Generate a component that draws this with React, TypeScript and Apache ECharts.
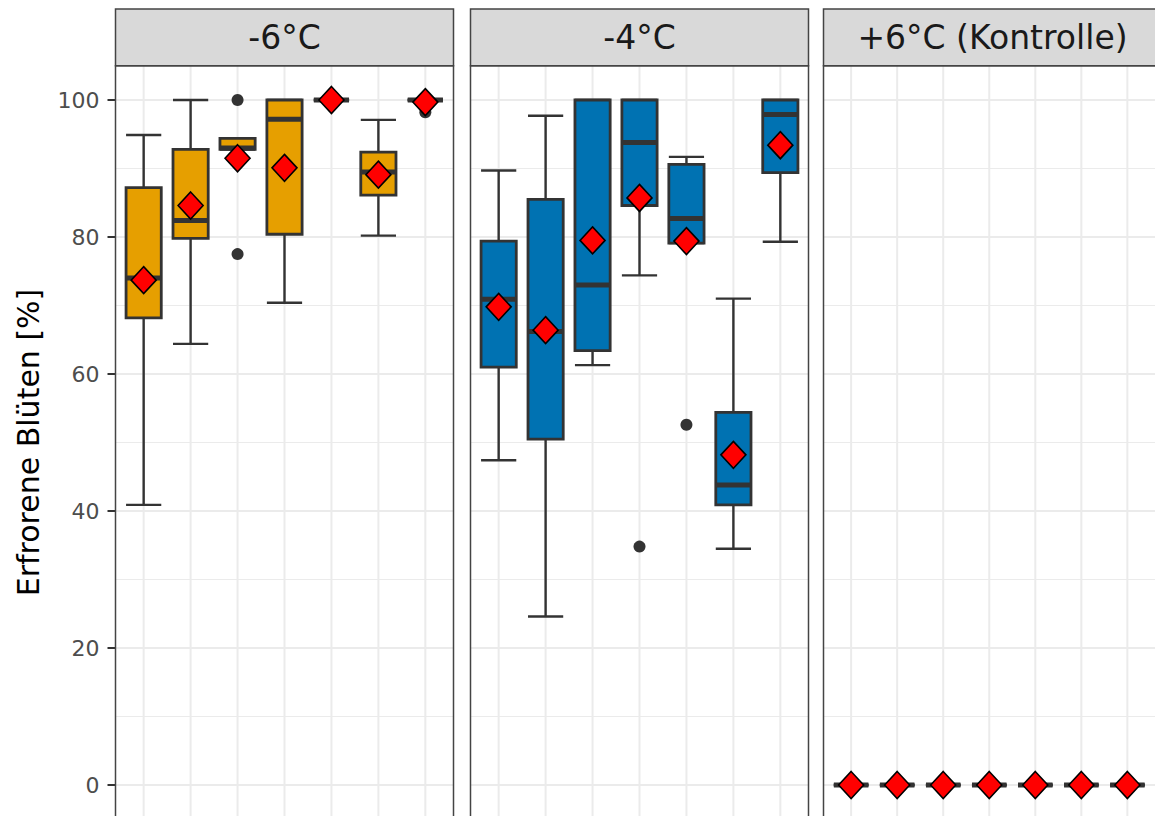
import React, { useEffect, useRef } from "react";
import * as echarts from "echarts";

// ---------- data ----------
const panels = ["-6°C", "-4°C", "+6°C (Kontrolle)"];
const categories = ["1", "2", "3", "4", "5", "6", "7"];
const yTicks = [0, 20, 40, 60, 80, 100];

// [lower whisker, Q1, median, Q3, upper whisker]
const boxMinus6 = [
  [40.9, 68.2, 74.0, 87.2, 94.9],
  [64.4, 79.8, 82.4, 92.8, 100],
  [92.8, 92.8, 93.0, 94.4, 94.4],
  [70.4, 80.4, 97.2, 100, 100],
  [100, 100, 100, 100, 100],
  [80.2, 86.1, 89.5, 92.4, 97.1],
  [100, 100, 100, 100, 100],
];
const meanMinus6 = [73.7, 84.6, 91.5, 90.1, 100, 89.1, 99.7];
const outlierMinus6 = [
  [3, 100],
  [3, 77.5],
  [7, 98.2],
];

const boxMinus4 = [
  [47.4, 61.0, 70.9, 79.4, 89.7],
  [24.6, 50.5, 66.2, 85.5, 97.7],
  [61.3, 63.4, 73.0, 100, 100],
  [74.4, 84.6, 93.8, 100, 100],
  [79.1, 79.1, 82.7, 90.6, 91.7],
  [34.5, 40.9, 43.8, 54.4, 71.0],
  [79.3, 89.4, 97.9, 100, 100],
];
const meanMinus4 = [69.8, 66.4, 79.5, 85.7, 79.4, 48.2, 93.4];
const outlierMinus4 = [
  [4, 34.8],
  [5, 52.6],
];

const boxPlus6 = [
  [0, 0, 0, 0, 0],
  [0, 0, 0, 0, 0],
  [0, 0, 0, 0, 0],
  [0, 0, 0, 0, 0],
  [0, 0, 0, 0, 0],
  [0, 0, 0, 0, 0],
  [0, 0, 0, 0, 0],
];
const meanPlus6 = [0, 0, 0, 0, 0, 0, 0];
const outlierPlus6: number[][] = [];

const panelBoxes = [boxMinus6, boxMinus4, boxPlus6];
const panelMeans = [meanMinus6, meanMinus4, meanPlus6];
const panelOutliers = [outlierMinus6, outlierMinus4, outlierPlus6];
const panelColors = ["#E69F00", "#0072B2", "#D55E00"];

// ---------- layout ----------
const PANEL_LEFT = [115.5, 470.5, 823.5];
const PANEL_W = 338;
const DATA_TOP = 100; // y of value 100
const DATA_H = 685; // 100 -> 0
const EXP = 5; // ggplot expansion in data units
const FONT = "DejaVu Sans";

export default function App() {
  const ref = useRef<HTMLDivElement>(null);

  useEffect(() => {
    if (!ref.current) return;
    const chart = echarts.init(ref.current, undefined, { renderer: "svg" });
    const unitPx = DATA_H / 100;
    const panelTop = DATA_TOP - EXP * unitPx;
    const panelH = DATA_H + 2 * EXP * unitPx;

    const grids = PANEL_LEFT.map((l) => ({
      left: l,
      top: DATA_TOP,
      width: PANEL_W,
      height: DATA_H,
      containLabel: false,
    }));

    const xAxes = PANEL_LEFT.map((_, i) => ({
      type: "value",
      gridIndex: i,
      min: 0.4,
      max: 7.6,
      show: false,
    }));

    const yAxes = PANEL_LEFT.map((_, i) => ({
      type: "value",
      gridIndex: i,
      min: yTicks[0],
      max: yTicks[yTicks.length - 1],
      interval: 20,
      name: i === 0 ? "Erfrorene Blüten [%]" : "",
      nameLocation: "middle",
      nameRotate: 90,
      nameGap: 72,
      nameTextStyle: { fontFamily: FONT, fontSize: 30, color: "#000" },
      axisLine: { show: false },
      axisTick: {
        show: i === 0,
        length: 8,
        lineStyle: { color: "#333", width: 2 },
      },
      axisLabel: {
        show: i === 0,
        fontFamily: FONT,
        fontSize: 22,
        color: "#4d4d4d",
        margin: 16,
      },
      splitLine: { show: true, lineStyle: { color: "#ebebeb", width: 2 } },
      minorTick: { show: false, splitNumber: 2 },
      minorSplitLine: { show: true, lineStyle: { color: "#ebebeb", width: 1.2 } },
    }));

    const series: any[] = [];
    PANEL_LEFT.forEach((_, p) => {
      // vertical grid lines at categories
      series.push({
        type: "custom",
        xAxisIndex: p,
        yAxisIndex: p,
        z: 0,
        silent: true,
        data: categories.map((_, i) => [i + 1]),
        encode: { x: 0 },
        renderItem: (params: any, api: any) => {
          const x = api.value(0);
          const top = api.coord([x, 100 + EXP]);
          const bot = api.coord([x, -EXP]);
          return {
            type: "line",
            shape: { x1: top[0], y1: top[1], x2: bot[0], y2: bot[1] },
            style: { stroke: "#ebebeb", lineWidth: 2 },
          };
        },
      });
      // boxes
      const color = panelColors[p];
      series.push({
        type: "custom",
        xAxisIndex: p,
        yAxisIndex: p,
        z: 2,
        data: panelBoxes[p].map((b, i) => [i + 1, ...b]),
        encode: { x: 0, y: [1, 2, 3, 4, 5] },
        renderItem: (params: any, api: any) => {
          const x = api.value(0);
          const lw = api.coord([x, api.value(1)]);
          const q1 = api.coord([x, api.value(2)]);
          const md = api.coord([x, api.value(3)]);
          const q3 = api.coord([x, api.value(4)]);
          const hw = api.coord([x, api.value(5)]);
          const half = api.size([0.75, 0])[0] / 2;
          const cx = lw[0];
          const ls = { stroke: "#333", lineWidth: 2.4 };
          return {
            type: "group",
            children: [
              { type: "line", shape: { x1: cx, y1: hw[1], x2: cx, y2: lw[1] }, style: ls },
              { type: "line", shape: { x1: cx - half, y1: hw[1], x2: cx + half, y2: hw[1] }, style: ls },
              { type: "line", shape: { x1: cx - half, y1: lw[1], x2: cx + half, y2: lw[1] }, style: ls },
              {
                type: "rect",
                shape: { x: cx - half, y: q3[1], width: half * 2, height: q1[1] - q3[1] },
                style: { fill: color, stroke: "#333", lineWidth: 2.8 },
              },
              {
                type: "line",
                shape: { x1: cx - half, y1: md[1], x2: cx + half, y2: md[1] },
                style: { stroke: "#333", lineWidth: 5 },
              },
            ],
          };
        },
      });
      // outliers
      series.push({
        type: "scatter",
        xAxisIndex: p,
        yAxisIndex: p,
        z: 3,
        clip: false,
        symbol: "circle",
        symbolSize: 12,
        itemStyle: { color: "#333", opacity: 1 },
        data: panelOutliers[p],
      });
      // means
      series.push({
        type: "scatter",
        xAxisIndex: p,
        yAxisIndex: p,
        z: 4,
        clip: false,
        symbol: "diamond",
        symbolSize: [25, 27],
        itemStyle: { color: "#FF0000", borderColor: "#000", borderWidth: 1.6, opacity: 1 },
        data: panelMeans[p].map((m, i) => [i + 1, m]),
      });
    });

    const graphics: any[] = [];
    PANEL_LEFT.forEach((l, p) => {
      graphics.push({
        type: "rect",
        z: 100,
        silent: true,
        shape: { x: l, y: panelTop, width: PANEL_W, height: panelH },
        style: { fill: "none", stroke: "#444", lineWidth: 1.5 },
      });
      graphics.push({
        type: "rect",
        z: 100,
        silent: true,
        shape: { x: l, y: 9, width: PANEL_W, height: panelTop - 9 },
        style: { fill: "#d9d9d9", stroke: "#444", lineWidth: 1.5 },
      });
      graphics.push({
        type: "text",
        z: 101,
        silent: true,
        x: l + PANEL_W / 2,
        y: (9 + panelTop) / 2,
        style: {
          text: panels[p],
          fontFamily: FONT,
          fontSize: 33,
          fill: "#1a1a1a",
          align: "center",
          verticalAlign: "middle",
        },
      });
    });

    chart.setOption({
      animation: false,
      backgroundColor: "#fff",
      grid: grids,
      xAxis: xAxes,
      yAxis: yAxes,
      series,
      graphic: graphics,
    });
    return () => chart.dispose();
  }, []);

  return (
    <div
      ref={ref}
      style={{ position: "fixed", left: 0, top: 0, width: 1155, height: 816, background: "#fff" }}
    />
  );
}
